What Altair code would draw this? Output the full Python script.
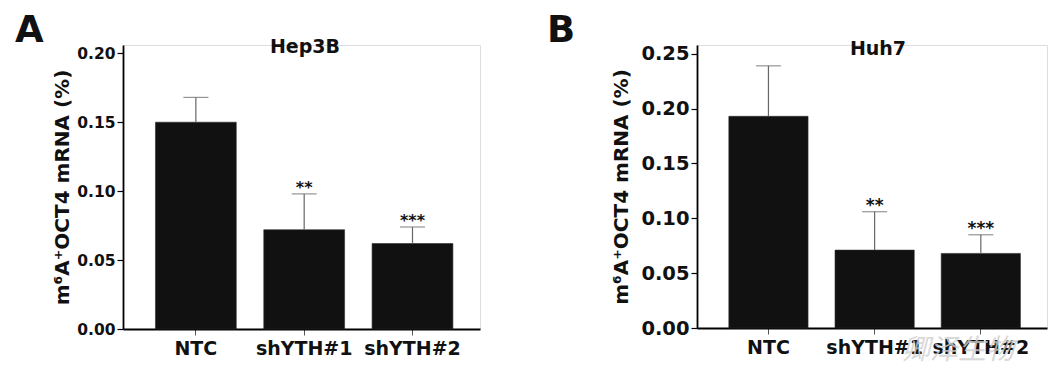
import altair as alt
import pandas as pd

categories = ["NTC", "shYTH#1", "shYTH#2"]
significance = ["", "**", "***"]

hep3b_mean = [0.150, 0.072, 0.062]
hep3b_sem = [0.018, 0.026, 0.012]

huh7_mean = [0.193, 0.071, 0.068]
huh7_sem = [0.046, 0.035, 0.017]

y_ticks_a = [0.00, 0.05, 0.10, 0.15, 0.20]
y_ticks_b = [0.00, 0.05, 0.10, 0.15, 0.20, 0.25]

FONT = "DejaVu Sans"
Y_TITLE = "m\u2076A\u207aOCT4 mRNA (%)"


def panel(letter, name, means, sems, ticks, ymax, width, height,
          tick_fs, title_pad, star_fs, title_x, title_y, extra=None):
    df = pd.DataFrame({
        "cat": categories,
        "mean": means,
        "sem": sems,
        "sig": significance,
    })
    base = alt.Chart(df).transform_calculate(top="datum.mean + datum.sem")

    xscale = alt.Scale(paddingInner=0.254, paddingOuter=0.275, align=0.545)
    yscale = alt.Scale(domain=[0, ymax], nice=False, zero=True)

    xaxis = alt.Axis(
        title=None, labelAngle=0, labelFont=FONT, labelFontSize=19,
        labelFontWeight="bold", labelColor="#111", labelPadding=4,
        domainColor="#000", domainWidth=1.8, tickColor="#555",
        tickSize=6, tickWidth=1, grid=False,
    )
    yaxis = alt.Axis(
        title=Y_TITLE, values=ticks, format=".2f", labelFont=FONT,
        labelFontSize=tick_fs, labelFontWeight="bold", labelColor="#111",
        labelPadding=2, domainColor="#000", domainWidth=1.8,
        tickColor="#000", tickSize=6, tickWidth=1.2, grid=False,
        titleFont=FONT, titleFontSize=20, titleFontWeight="bold",
        titleColor="#111", titlePadding=title_pad,
    )

    X = alt.X("cat:N", sort=categories, scale=xscale, axis=xaxis)
    X2 = alt.X("cat:N", sort=categories, axis=xaxis)

    bars = base.mark_bar(color="#111111", stroke="#2a2a2a", strokeWidth=0.6).encode(
        x=X, y=alt.Y("mean:Q", scale=yscale, axis=yaxis)
    )
    err = base.mark_rule(color="#666666", strokeWidth=1.2).encode(
        x=X2, y=alt.Y("mean:Q", axis=yaxis), y2="top:Q"
    )
    cap = base.mark_tick(color="#666666", thickness=1.2, size=25).encode(
        x=X2, y=alt.Y("top:Q", axis=yaxis)
    )
    stars = base.mark_text(
        font=FONT, fontSize=star_fs, fontWeight="bold", color="#111",
        baseline="alphabetic", dy=-1,
    ).encode(x=X2, y=alt.Y("top:Q", axis=yaxis), text="sig:N")

    title = alt.Chart(pd.DataFrame({"t": [name]})).mark_text(
        font=FONT, fontSize=19, fontWeight="bold", color="#111",
        align="center", baseline="alphabetic",
    ).encode(x=alt.value(title_x), y=alt.value(title_y), text="t:N")

    lab = alt.Chart(pd.DataFrame({"t": [letter[0]]})).mark_text(
        font=FONT, fontSize=37, fontWeight="bold", color="#111",
        align="left", baseline="top",
    ).encode(x=alt.value(letter[1]), y=alt.value(-32), text="t:N")

    layers = [bars, err, cap, stars, title, lab]
    if extra is not None:
        layers.append(extra)
    return alt.layer(*layers).properties(width=width, height=height)


watermark = alt.Chart(pd.DataFrame({"t": ["卿泽生物"]})).mark_text(
    font="Noto Sans CJK SC", fontSize=28, fontStyle="italic", color="#cfcfcf",
    opacity=0.8, align="center", baseline="middle",
).encode(x=alt.value(261), y=alt.value(306), text="t:N")

pa = panel(("A", -108), "Hep3B", hep3b_mean, hep3b_sem, y_ticks_a, 0.206,
           357, 284, 15.5, 4, 16, 182, 8)
pb = panel(("B", -150), "Huh7", huh7_mean, huh7_sem, y_ticks_b, 0.258,
           350, 283, 19.5, 9, 17, 181, 10, extra=watermark)

chart = alt.hconcat(pa, pb, spacing=65).properties(
    padding={"left": 6, "top": 3, "right": 0, "bottom": 0}
).configure_view(stroke=None).configure(background="white")

chart.save("out.html", embed_options={"renderer": "svg", "actions": False})
